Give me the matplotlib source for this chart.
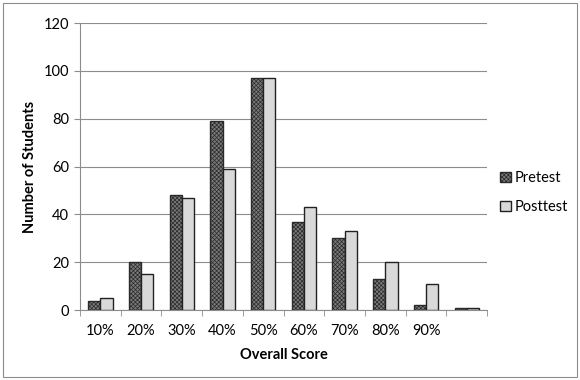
import matplotlib.pyplot as plt
import numpy as np
from matplotlib.patches import Rectangle

categories = ['10%', '20%', '30%', '40%', '50%', '60%', '70%', '80%', '90%', '']
pretest = [4, 20, 48, 79, 97, 37, 30, 13, 2, 1]
posttest = [5, 15, 47, 59, 97, 43, 33, 20, 11, 1]

plt.rcParams['font.family'] = ['Lato', 'DejaVu Sans']
plt.rcParams['hatch.linewidth'] = 0.5

fig = plt.figure(figsize=(5.8, 3.8), dpi=100)
ax = fig.add_axes([0.138, 0.184, 0.702, 0.755])

ind = np.arange(len(categories))
width = 0.3

ax.bar(ind - width / 2, pretest, width, color='#7a7a7a', edgecolor='#2a2a2a',
       hatch='xxxxxxxx', linewidth=1.0, label='Pretest', zorder=3)
ax.bar(ind + width / 2, posttest, width, color='#d9d9d9', edgecolor='#222222',
       linewidth=1.0, label='Posttest', zorder=3)

ax.set_xlim(-0.5, len(categories) - 0.5)
ax.set_ylim(0, 120)
ax.set_yticks(np.arange(0, 121, 20))
ax.yaxis.grid(True, color='#8c8c8c', linewidth=0.8, zorder=0)

ax.set_xticks(ind)
ax.set_xticklabels(categories)
ax.set_xticks(np.arange(-0.5, len(categories)), minor=True)
ax.tick_params(axis='x', which='major', length=0, pad=10, labelsize=10.5)
ax.tick_params(axis='x', which='minor', length=4, color='#8c8c8c')
ax.tick_params(axis='y', length=4, color='#8c8c8c', labelsize=10.5, pad=4)

for s in ['top', 'right']:
    ax.spines[s].set_visible(False)
for s in ['left', 'bottom']:
    ax.spines[s].set_color('#8c8c8c')

ax.set_xlabel('Overall Score', fontweight='bold', fontsize=10.5, labelpad=7)
ax.set_ylabel('Number of Students', fontweight='bold', fontsize=10.5, labelpad=4)
ax.yaxis.set_label_coords(-0.105, 0.5)

ax.legend(loc='center left', bbox_to_anchor=(1.0, 0.41), frameon=False,
          fontsize=10.5, handlelength=0.7, handleheight=0.7, handletextpad=0.3,
          labelspacing=1.0)

fig.patches.append(Rectangle((3 / 580, 3 / 380), 574 / 580, 374 / 380,
                             transform=fig.transFigure, fill=False,
                             edgecolor='#8c8c8c', linewidth=0.8))

fig.savefig('out.png', dpi=100)
